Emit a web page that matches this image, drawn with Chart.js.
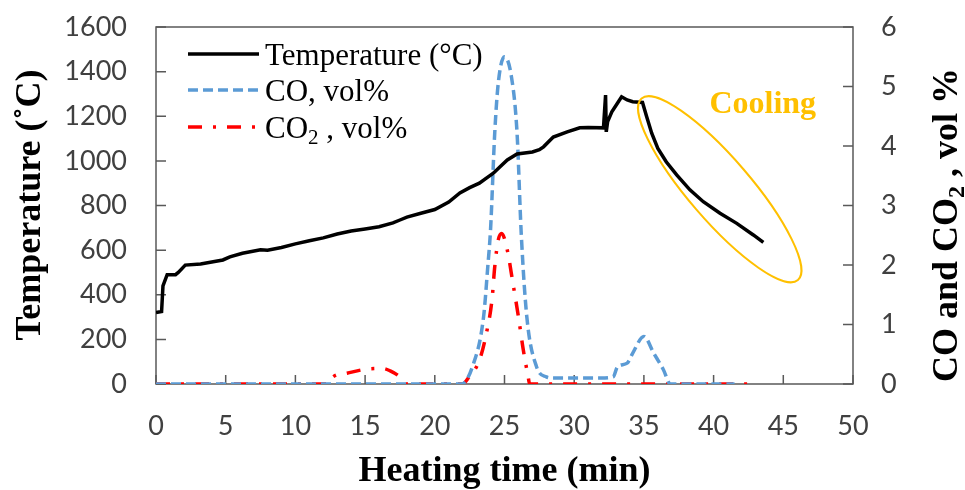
<!DOCTYPE html>
<html>
<head>
<meta charset="utf-8">
<script src="https://cdn.jsdelivr.net/npm/chart.js@4"></script>
<style>
  html, body { margin: 0; padding: 0; background: #fff; }
  #chart-container { width: 965px; height: 490px; }
</style>
</head>
<body>
<div id="chart-container"><canvas id="chart" width="965" height="490"></canvas></div>
<script>
// Temperature (°C) against heating time (min)
const tempTime = [0, 0.4, 0.5, 0.8, 1.4, 1.6, 2.1, 3.2, 4.1, 4.8, 5.3, 6.2, 7.5, 8, 9, 10, 11, 12, 13, 14, 15, 16, 17, 17.5, 18, 19, 20, 21, 21.8, 22.5, 23.2, 23.7, 24.2, 24.7, 25.2, 25.9, 27, 27.5, 27.8, 28.5, 29.5, 30.4, 31, 32.1, 32.25, 32.3, 32.4, 32.7, 33.1, 33.4, 33.8, 34.2, 34.9, 35.2, 35.56, 36.0, 36.6, 37.35, 38.3, 39.26, 40.46, 41.66, 42.85, 43.57];
const tempValue = [320, 325, 440, 490, 490, 500, 533, 538, 548, 556, 570, 586, 602, 600, 612, 628, 642, 655, 672, 686, 695, 705, 722, 735, 748, 765, 782, 815, 856, 880, 900, 923, 945, 975, 1004, 1031, 1040, 1050, 1063, 1107, 1130, 1148, 1150, 1148, 1295, 1130, 1176, 1220, 1258, 1287, 1273, 1265, 1262, 1198, 1124, 1056, 996, 937, 870, 817, 765, 720, 668, 635];

// CO, vol%
const coTime = [0, 21.9, 22.7, 23.5, 23.8, 24.0, 24.3, 24.55, 25.0, 25.5, 25.9, 26.2, 26.6, 27.3, 28.0, 28.5, 29.9, 31.9, 32.8, 33.1, 33.8, 34.2, 35.0, 35.7, 36.4, 36.9, 41.5];
const coValue = [0, 0, 0.29, 1.13, 1.97, 2.6, 4.22, 5.05, 5.5, 5.16, 4.22, 2.53, 1.13, 0.29, 0.12, 0.1, 0.1, 0.1, 0.12, 0.29, 0.35, 0.52, 0.8, 0.52, 0.24, 0, 0];

// CO2, vol%
const co2Time = [0, 12.3, 12.7, 13.7, 15.1, 16.3, 16.8, 17.5, 18.0, 22.0, 22.4, 23.2, 23.7, 24.1, 24.3, 24.55, 24.8, 25.2, 25.6, 26.0, 26.35, 26.7, 26.8, 42.5];
const co2Value = [0, 0, 0.12, 0.18, 0.25, 0.26, 0.22, 0.12, 0, 0, 0.1, 0.4, 0.85, 1.41, 1.97, 2.42, 2.53, 2.25, 1.7, 1.13, 0.57, 0.12, 0, 0];

// "Cooling" annotation: ends of the ellipse's long axis and the label anchor (time, °C)
const coolingEllipse = [[34.83, 1280], [46.05, 466]];
const coolingLabel = [39.7, 1215];

const toPoints = (xs, ys) => xs.map((x, i) => ({ x: x, y: ys[i] }));

const axisColor = "#595959";
const tickFont = { family: "Lato", size: 27 };
const titleFamily = '"Liberation Serif", "Times New Roman", serif';
const plainLabel = (value) => String(value);

// draw pieces of text (for sub/superscripts) one after another
function drawPieces(ctx, pieces, x, y) {
  let cx = x;
  pieces.forEach((p) => {
    ctx.font = p.font;
    ctx.fillText(p.text, cx, y + (p.dy || 0));
    cx += ctx.measureText(p.text).width;
  });
}
function piecesWidth(ctx, pieces) {
  let w = 0;
  pieces.forEach((p) => {
    ctx.font = p.font;
    w += ctx.measureText(p.text).width;
  });
  return w;
}

// box around the plot and inward tick marks
const framePlugin = {
  id: "frame",
  beforeDatasetsDraw(chart) {
    const { ctx, chartArea: a, scales } = chart;
    ctx.save();
    ctx.strokeStyle = axisColor;
    ctx.lineWidth = 1.5;
    ctx.strokeRect(a.left, a.top, a.right - a.left, a.bottom - a.top);
    ctx.beginPath();
    scales.x.ticks.forEach((t) => {
      const px = scales.x.getPixelForValue(t.value);
      ctx.moveTo(px, a.bottom);
      ctx.lineTo(px, a.bottom - 9);
    });
    scales.y.ticks.forEach((t) => {
      const py = scales.y.getPixelForValue(t.value);
      ctx.moveTo(a.left, py);
      ctx.lineTo(a.left + 10, py);
    });
    scales.y1.ticks.forEach((t) => {
      const py = scales.y1.getPixelForValue(t.value);
      ctx.moveTo(a.right, py);
      ctx.lineTo(a.right - 10, py);
    });
    ctx.stroke();
    ctx.restore();
  },
};

// legend, titles and the cooling ellipse
const extrasPlugin = {
  id: "extras",
  afterDraw(chart) {
    const { ctx, scales } = chart;
    const ds = chart.data.datasets;
    ctx.save();

    // cooling ellipse
    const p1 = { x: scales.x.getPixelForValue(coolingEllipse[0][0]), y: scales.y.getPixelForValue(coolingEllipse[0][1]) };
    const p2 = { x: scales.x.getPixelForValue(coolingEllipse[1][0]), y: scales.y.getPixelForValue(coolingEllipse[1][1]) };
    ctx.beginPath();
    ctx.ellipse((p1.x + p2.x) / 2, (p1.y + p2.y) / 2, Math.hypot(p2.x - p1.x, p2.y - p1.y) / 2, 31,
      Math.atan2(p2.y - p1.y, p2.x - p1.x), 0, Math.PI * 2);
    ctx.strokeStyle = "#FFC000";
    ctx.lineWidth = 2;
    ctx.stroke();

    ctx.fillStyle = "#FFC000";
    ctx.font = "bold 32px " + titleFamily;
    ctx.textAlign = "left";
    ctx.textBaseline = "alphabetic";
    ctx.fillText("Cooling", scales.x.getPixelForValue(coolingLabel[0]), scales.y.getPixelForValue(coolingLabel[1]));

    // legend
    const legendFont = "31px " + titleFamily;
    const subFont = "21px " + titleFamily;
    const rows = [
      { y: 54, pieces: [{ text: "Temperature (°C)", font: legendFont }] },
      { y: 90, pieces: [{ text: "CO, vol%", font: legendFont }] },
      { y: 127, pieces: [{ text: "CO", font: legendFont }, { text: "2", font: subFont, dy: 6 }, { text: " , vol%", font: legendFont }] },
    ];
    rows.forEach((r, i) => {
      ctx.beginPath();
      ctx.setLineDash(ds[i].borderDash || []);
      ctx.strokeStyle = ds[i].borderColor;
      ctx.lineWidth = ds[i].borderWidth;
      ctx.moveTo(188, r.y);
      ctx.lineTo(259, r.y);
      ctx.stroke();
      ctx.setLineDash([]);
      ctx.fillStyle = "#000";
      drawPieces(ctx, r.pieces, 265, r.y + 11);
    });

    // axis titles
    ctx.fillStyle = "#000";
    const tFont = "bold 36px " + titleFamily;
    ctx.font = "bold 36px " + titleFamily;
    ctx.textAlign = "center";
    ctx.fillText("Heating time (min)", (chart.chartArea.left + chart.chartArea.right) / 2, 481);
    ctx.textAlign = "left";

    const leftTitle = [{ text: "Temperature (˚C)", font: tFont }];
    ctx.save();
    ctx.translate(28, 205);
    ctx.rotate(-Math.PI / 2);
    drawPieces(ctx, leftTitle, -piecesWidth(ctx, leftTitle) / 2, 12);
    ctx.restore();

    const rightTitle = [
      { text: "CO and CO", font: tFont },
      { text: "2", font: "bold 24px " + titleFamily, dy: 7 },
      { text: " , vol %", font: tFont },
    ];
    ctx.save();
    ctx.translate(945, 225);
    ctx.rotate(-Math.PI / 2);
    drawPieces(ctx, rightTitle, -piecesWidth(ctx, rightTitle) / 2, 12);
    ctx.restore();

    ctx.restore();
  },
};

const ctx = document.getElementById("chart").getContext("2d");

const chart = new Chart(ctx, {
  type: "line",
  data: {
    datasets: [
      {
        label: "Temperature (°C)",
        data: toPoints(tempTime, tempValue),
        yAxisID: "y",
        borderColor: "#000000",
        borderWidth: 3.5,
        pointRadius: 0,
        tension: 0,
      },
      {
        label: "CO, vol%",
        data: toPoints(coTime, coValue),
        yAxisID: "y1",
        borderColor: "#5B9BD5",
        borderWidth: 3.5,
        borderDash: [10, 5],
        pointRadius: 0,
        cubicInterpolationMode: "monotone",
      },
      {
        label: "CO2 , vol%",
        data: toPoints(co2Time, co2Value),
        yAxisID: "y1",
        borderColor: "#FF0000",
        borderWidth: 3.5,
        borderDash: [14, 11, 3, 11],
        pointRadius: 0,
        cubicInterpolationMode: "monotone",
      },
    ],
  },
  options: {
    responsive: false,
    animation: false,
    layout: { padding: { top: 27, left: 0, right: 0, bottom: 0 } },
    plugins: { legend: { display: false }, tooltip: { enabled: false } },
    scales: {
      x: {
        type: "linear",
        min: 0,
        max: 50,
        grid: { display: false, drawTicks: false },
        border: { display: false },
        ticks: { stepSize: 5, font: tickFont, color: "#404040", padding: 26, maxRotation: 0, callback: plainLabel },
        afterFit: (scale) => { scale.height = 106; },
      },
      y: {
        position: "left",
        min: 0,
        max: 1600,
        grid: { display: false, drawTicks: false },
        border: { display: false },
        ticks: { stepSize: 200, font: tickFont, color: "#404040", padding: 29, callback: plainLabel },
        afterFit: (scale) => { scale.width = 156; scale.paddingTop = 0; scale.paddingBottom = 0; },
      },
      y1: {
        position: "right",
        min: 0,
        max: 6,
        grid: { display: false, drawTicks: false },
        border: { display: false },
        ticks: { stepSize: 1, font: tickFont, color: "#404040", padding: 28, callback: plainLabel },
        afterFit: (scale) => { scale.width = 112; scale.paddingTop = 0; scale.paddingBottom = 0; },
      },
    },
  },
  plugins: [framePlugin, extrasPlugin],
});
</script>
</body>
</html>
